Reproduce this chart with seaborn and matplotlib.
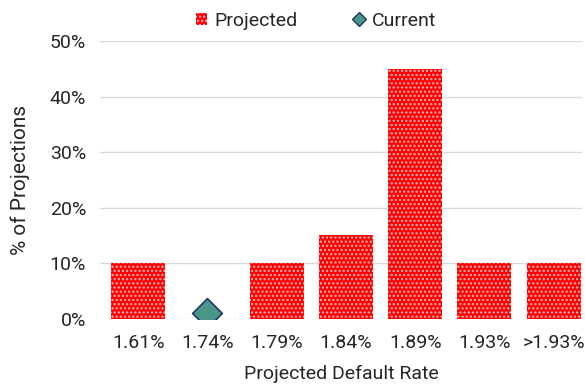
import matplotlib
matplotlib.use("Agg")
import matplotlib.pyplot as plt
import seaborn as sns
import pandas as pd
from matplotlib.patches import Patch
from matplotlib.lines import Line2D
from matplotlib.ticker import PercentFormatter

categories = ["1.61%", "1.74%", "1.79%", "1.84%", "1.89%", "1.93%", ">1.93%"]
projected = [10, 0, 10, 15, 45, 10, 10]
current_category = "1.74%"
current_value = 1

sns.set_theme(style="white")
plt.rcParams["font.family"] = ["Roboto", "DejaVu Sans"]
plt.rcParams["hatch.linewidth"] = 1.1

fig, ax = plt.subplots(figsize=(5.85, 3.86), dpi=100)
fig.subplots_adjust(left=0.171, right=0.995, top=0.894, bottom=0.174)

df = pd.DataFrame({"cat": categories, "val": projected})
sns.barplot(data=df, x="cat", y="val", order=categories, color="#ff0000",
            saturation=1, width=0.78, ax=ax)
for p in ax.patches:
    p.set_hatch("....")
    p.set_edgecolor("#ffb4b4")
    p.set_linewidth(0)

cx = categories.index(current_category)
ax.scatter([cx], [current_value], marker="D", s=230, color="#4a9488",
           edgecolor="#1f3864", linewidth=1.2, zorder=5)

ax.set_ylim(0, 50)
ax.set_xlim(-0.55, 6.41)
ax.set_yticks(range(0, 51, 10))
ax.yaxis.set_major_formatter(PercentFormatter(decimals=0))
ax.grid(axis="y", color="#d9d9d9", linewidth=1)
ax.set_axisbelow(True)
for s in ax.spines.values():
    s.set_visible(False)
ax.tick_params(axis="both", labelsize=14, colors="#262626", length=0)
ax.tick_params(axis="y", pad=10)
ax.tick_params(axis="x", pad=11)
ax.set_xlabel("Projected Default Rate", fontsize=14, color="#262626", labelpad=9)
ax.set_ylabel("% of Projections", fontsize=15, color="#262626", labelpad=14)

handles = [Patch(facecolor="#ff0000", edgecolor="#ffb4b4", hatch="....", linewidth=0, label="Projected"),
           Line2D([], [], marker="D", linestyle="none", markersize=7, markerfacecolor="#4a9488",
                  markeredgecolor="#1f3864", label="Current")]
fig.legend(handles=handles, loc="upper center", bbox_to_anchor=(0.54, 1.015), ncol=2,
           frameon=False, fontsize=14, handlelength=0.6, handleheight=0.6,
           handletextpad=0.35, columnspacing=2.9)

fig.savefig("out.png", dpi=100)
